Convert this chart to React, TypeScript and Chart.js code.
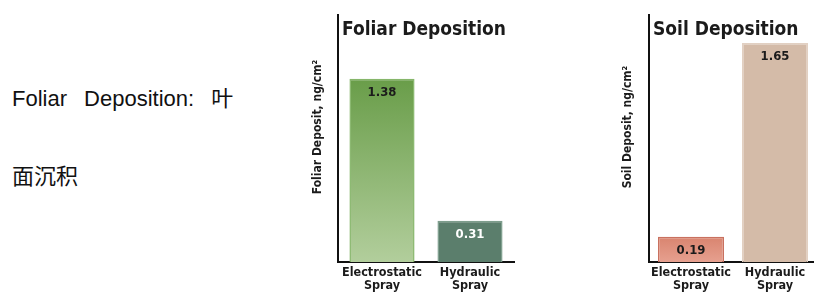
import React, { useEffect, useRef } from "react";
import { Chart, registerables } from "chart.js";

Chart.register(...registerables);

// ---- data ----
const categories = [["Electrostatic", "Spray"], ["Hydraulic", "Spray"]];
const foliarValues = [1.38, 0.31];
const soilValues = [0.19, 1.65];
const valueLabelsFoliar = ["1.38", "0.31"];
const valueLabelsSoil = ["0.19", "1.65"];
const yMax = 1.86;
const foliarTitle = "Foliar Deposition";
const soilTitle = "Soil Deposition";
const foliarAxisTitle = "Foliar Deposit, ng/cm²";
const soilAxisTitle = "Soil Deposit, ng/cm²";
const sideLine1 = "Foliar Deposition: 叶";
const sideLine2 = "面沉积";

const COND = '"DejaVu Sans Condensed", "DejaVu Sans", sans-serif';

const overlayPlugin = {
  id: "overlay",
  afterDatasetsDraw(chart: any, _args: any, opts: any) {
    const { ctx, chartArea } = chart;
    if (!chartArea) return;
    ctx.save();
    // chart title inside the plot
    ctx.fillStyle = "#1b1b1b";
    ctx.font = `bold 19px ${COND}`;
    ctx.textAlign = "left";
    ctx.textBaseline = "alphabetic";
    ctx.fillText(opts.title, chartArea.left + 4, 35);
    // y axis title
    ctx.save();
    ctx.translate(opts.axisX, opts.axisY);
    ctx.rotate(-Math.PI / 2);
    ctx.font = `bold 12px ${COND}`;
    ctx.textAlign = "center";
    ctx.textBaseline = "middle";
    ctx.fillText(opts.axisTitle, 0, 0);
    ctx.restore();
    // value labels
    const meta = chart.getDatasetMeta(0);
    ctx.font = `bold 13px ${COND}`;
    ctx.textAlign = "center";
    ctx.textBaseline = "middle";
    meta.data.forEach((bar: any, i: number) => {
      ctx.fillStyle = opts.valueColors[i];
      ctx.fillText(opts.labels[i], bar.x, bar.y + 14);
    });
    ctx.restore();
  },
};

function makeFill(stops: string[][]) {
  return (c: any) => {
    const chart = c.chart;
    const stop = stops[c.dataIndex];
    if (!chart.chartArea || !chart.scales.y) return stop[0];
    const y = chart.scales.y;
    const top = y.getPixelForValue(c.raw);
    const bottom = y.getPixelForValue(0);
    const g = chart.ctx.createLinearGradient(0, top, 0, bottom);
    g.addColorStop(0, stop[0]);
    g.addColorStop(1, stop[1]);
    return g;
  };
}

function BarPanel(props: any) {
  const ref = useRef<HTMLCanvasElement | null>(null);
  useEffect(() => {
    if (!ref.current) return;
    const chart = new Chart(ref.current, {
      type: "bar",
      data: {
        labels: categories as any,
        datasets: [
          {
            data: props.values,
            backgroundColor: makeFill(props.fills),
            borderColor: props.borders,
            borderWidth: 1.5,
            barPercentage: props.barPct,
            categoryPercentage: 1,
          },
        ],
      },
      options: {
        animation: false,
        responsive: false,
        layout: { padding: { top: 15, right: props.padRight, left: 0, bottom: 0 } },
        plugins: {
          legend: { display: false },
          tooltip: { enabled: false },
          overlay: {
            title: props.title,
            axisTitle: props.axisTitle,
            axisX: props.axisX,
            axisY: 127,
            labels: props.labels,
            valueColors: props.valueColors,
          },
        } as any,
        scales: {
          x: {
            grid: { display: false, drawTicks: false },
            border: { display: true, color: "#111", width: 2 },
            ticks: {
              color: "#1b1b1b",
              padding: 4,
              maxRotation: 0,
              autoSkip: false,
              font: { family: COND, size: 12.5, weight: "bold", lineHeight: 1.05 },
            },
            afterFit: (s: any) => {
              s.height = 36;
            },
          },
          y: {
            min: 0,
            max: yMax,
            grid: { display: false, drawTicks: false },
            border: { display: true, color: "#111", width: 2 },
            ticks: { display: false },
            afterFit: (s: any) => {
              s.width = props.axisLeft;
            },
          },
        },
      } as any,
      plugins: [overlayPlugin],
    });
    return () => chart.destroy();
  }, []);
  return (
    <div style={{ position: "absolute", left: props.left, top: 0, width: props.width, height: 298 }}>
      <canvas ref={ref} width={props.width} height={298} style={{ display: "block" }} />
    </div>
  );
}

export default function App() {
  const textStyle: any = {
    position: "absolute",
    left: 12,
    fontFamily: '"Liberation Sans", Arial, "Noto Sans CJK SC", sans-serif',
    fontSize: 22,
    lineHeight: "22px",
    color: "#111",
    wordSpacing: 11,
    whiteSpace: "nowrap",
  };
  return (
    <div
      style={{
        position: "fixed",
        left: 0,
        top: 0,
        width: 814,
        height: 298,
        overflow: "hidden",
        background: "#fff",
      }}
    >
      <div style={{ ...textStyle, top: 88 }}>{sideLine1}</div>
      <div style={{ ...textStyle, top: 166 }}>{sideLine2}</div>
      <BarPanel
        left={300}
        width={220}
        axisLeft={38}
        padRight={6}
        barPct={0.74}
        values={foliarValues}
        labels={valueLabelsFoliar}
        title={foliarTitle}
        axisTitle={foliarAxisTitle}
        axisX={18}
        fills={[
          ["#699d49", "#b2ce9c"],
          ["#5b7e6c", "#5b7e6c"],
        ]}
        borders={["#86b66a", "#7d9d8c"]}
        valueColors={["#1b1b1b", "#ffffff"]}
      />
      <BarPanel
        left={610}
        width={210}
        axisLeft={39}
        padRight={3}
        barPct={0.786}
        values={soilValues}
        labels={valueLabelsSoil}
        title={soilTitle}
        axisTitle={soilAxisTitle}
        axisX={18}
        fills={[
          ["#d9846f", "#e6a08f"],
          ["#d4bba8", "#d4bba8"],
        ]}
        borders={["#c9715f", "#e2d0c2"]}
        valueColors={["#1b1b1b", "#1b1b1b"]}
      />
    </div>
  );
}
